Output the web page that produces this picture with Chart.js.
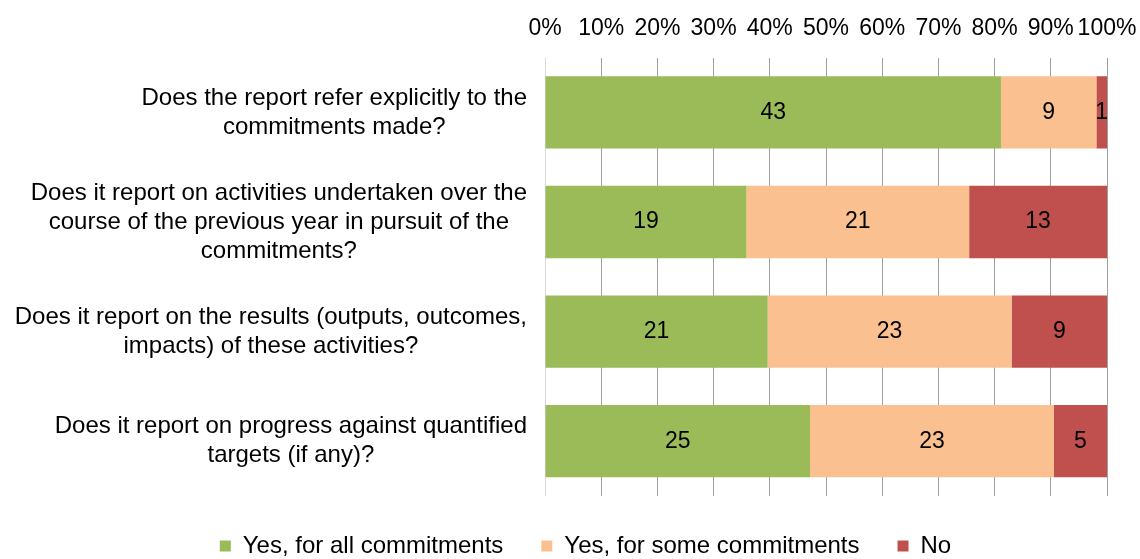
<!DOCTYPE html>
<html>
<head>
<meta charset="utf-8">
<script src="https://cdn.jsdelivr.net/npm/chart.js@4"></script>
<style>
  html, body { margin: 0; padding: 0; background: #fff; }
  #wrap { width: 1140px; height: 559px; position: relative; }
</style>
</head>
<body>
<div id="wrap"><canvas id="chart"></canvas></div>
<script>
// 问题（每项一行数组，多行显示）
const questions = [
  ['Does the report refer explicitly to the', 'commitments made?'],
  ['Does it report on activities undertaken over the', 'course of the previous year in pursuit of the', 'commitments?'],
  ['Does it report on the results (outputs, outcomes,', 'impacts) of these activities?'],
  ['Does it report on progress against quantified', 'targets (if any)?']
];

// 各系列的回答数量
const allCommitments = [43, 19, 21, 25];
const someCommitments = [9, 21, 23, 23];
const noCommitments = [1, 13, 9, 5];

const seriesNames = ['Yes, for all commitments', 'Yes, for some commitments', 'No'];
const seriesColors = ['#9BBB59', '#FAC090', '#C0504D'];

// 横轴刻度
const pctTicks = [0, 10, 20, 30, 40, 50, 60, 70, 80, 90, 100];

const FONT = '"Liberation Sans", Arial, sans-serif';
const PAD_LEFT = 64;

// 每行总数，用于换算成百分比
const totals = allCommitments.map((v, i) => v + someCommitments[i] + noCommitments[i]);
const toPct = arr => arr.map((v, i) => v / totals[i] * 100);
const counts = [allCommitments, someCommitments, noCommitments];

// 在柱子中间写数量
const countLabels = {
  id: 'countLabels',
  afterDatasetsDraw(chart) {
    const ctx = chart.ctx;
    ctx.save();
    ctx.font = '23px ' + FONT;
    ctx.fillStyle = '#000';
    ctx.textAlign = 'center';
    ctx.textBaseline = 'middle';
    chart.data.datasets.forEach((ds, di) => {
      chart.getDatasetMeta(di).data.forEach((bar, i) => {
        const x = (bar.x + bar.base) / 2;
        ctx.fillText(String(counts[di][i]), x, bar.y);
      });
    });
    ctx.restore();
  }
};

// 问题文字：每块内居中，整体右对齐到坐标轴
const questionLabels = {
  id: 'questionLabels',
  afterDraw(chart) {
    const ctx = chart.ctx;
    const yScale = chart.scales.y;
    const right = chart.chartArea.left - 18;
    const lineH = 29;
    ctx.save();
    ctx.font = '24px ' + FONT;
    ctx.fillStyle = '#000';
    ctx.textBaseline = 'middle';
    ctx.textAlign = 'center';
    questions.forEach((lines, i) => {
      const w = Math.max(...lines.map(l => ctx.measureText(l).width));
      const cx = right - w / 2;
      const cy = yScale.getPixelForValue(i);
      const y0 = cy - (lines.length - 1) * lineH / 2;
      lines.forEach((l, k) => ctx.fillText(l, cx, y0 + k * lineH));
    });
    ctx.restore();
  }
};

// 图例高度固定，避免 padding 同时撑大上下间距
const legendHeight = {
  id: 'legendHeight',
  beforeInit(chart) {
    const lg = chart.legend;
    if (!lg) return;
    const fit = lg.fit;
    lg.fit = function () {
      fit.call(this);
      this.height = 63;
    };
  }
};

new Chart(document.getElementById('chart'), {
  type: 'bar',
  data: {
    labels: questions.map(q => q.join(' ')),
    datasets: counts.map((arr, i) => ({
      label: seriesNames[i],
      data: toPct(arr),
      backgroundColor: seriesColors[i],
      borderWidth: 0,
      categoryPercentage: 1,
      barPercentage: 0.66
    }))
  },
  options: {
    indexAxis: 'y',
    responsive: true,
    maintainAspectRatio: false,
    animation: false,
    layout: { padding: { top: 0, right: 33, bottom: 0, left: PAD_LEFT } },
    scales: {
      x: {
        position: 'top',
        stacked: true,
        min: 0,
        max: 100,
        afterBuildTicks(scale) {
          scale.ticks = pctTicks.map(v => ({ value: v }));
        },
        afterFit(scale) {
          scale.paddingLeft = 0;
          scale.paddingRight = 0;
        },
        ticks: {
          callback: v => v + '%',
          color: '#000',
          font: { family: FONT, size: 23 },
          padding: 15,
          maxRotation: 0,
          autoSkip: false
        },
        grid: {
          drawTicks: false,
          color: ctx => ctx.index === 0 ? '#d9d9d9' : '#a0a0a0',
          lineWidth: 1
        },
        border: { display: false }
      },
      y: {
        stacked: true,
        ticks: { display: false },
        grid: { display: false },
        border: { display: false },
        afterFit(scale) { scale.width = 545 - PAD_LEFT; }
      }
    },
    plugins: {
      legend: {
        position: 'bottom',
        labels: {
          boxWidth: 11,
          boxHeight: 11,
          padding: 38,
          color: '#000',
          font: { family: FONT, size: 24 }
        }
      },
      tooltip: { enabled: false }
    }
  },
  plugins: [countLabels, questionLabels, legendHeight]
});
</script>
</body>
</html>
